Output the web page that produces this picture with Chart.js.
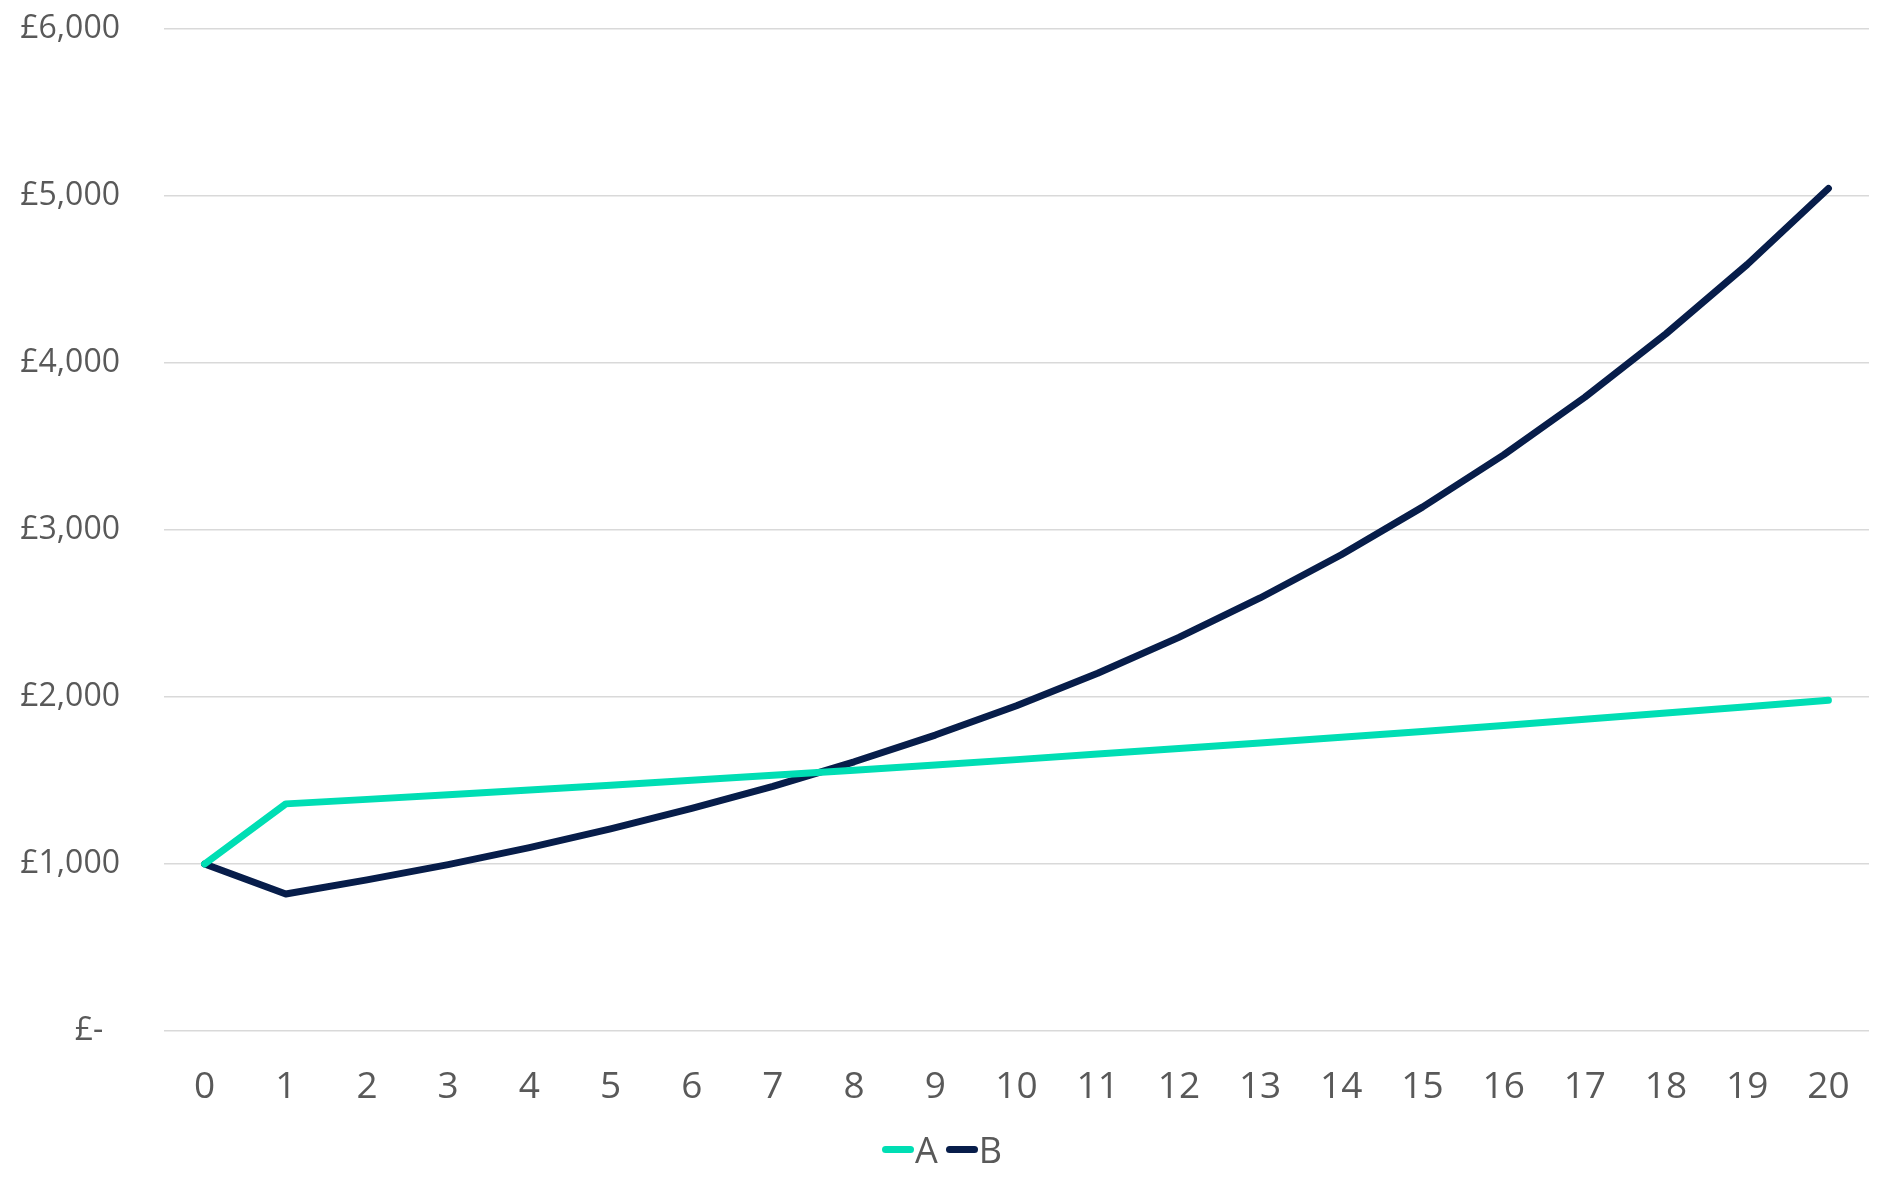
<!DOCTYPE html>
<html>
<head>
<meta charset="utf-8">
<script src="https://cdn.jsdelivr.net/npm/chart.js@4.4.1/dist/chart.umd.min.js"></script>
<style>
  html, body { margin: 0; padding: 0; background: #fff; }
  #wrap { position: relative; width: 1884px; height: 1187px; }
  #legend {
    position: absolute; left: 0; right: 0; top: 1125px; height: 48px;
    display: flex; justify-content: center; align-items: center;
    font-family: "Open Sans", "DejaVu Sans", sans-serif; font-size: 36px; color: #595959;
  }
  #legend .item { display: flex; align-items: center; margin: 0 4px; }
  #legend .swatch { width: 32px; height: 7px; border-radius: 4px; margin-right: 1px; }
</style>
</head>
<body>
<div id="wrap">
  <canvas id="chart"></canvas>
  <div id="legend"></div>
</div>
<script>
//------------------ Data ------------------//
const years = ['0','1','2','3','4','5','6','7','8','9','10','11','12','13','14','15','16','17','18','19','20'];
const seriesA = [1000, 1360, 1387, 1415, 1443, 1472, 1502, 1532, 1562, 1593, 1625, 1658, 1691, 1725, 1759, 1794, 1830, 1867, 1904, 1942, 1980];
const seriesB = [1000, 820, 905, 996, 1098, 1210, 1333, 1465, 1612, 1772, 1948, 2142, 2357, 2593, 2852, 3137, 3450, 3795, 4175, 4590, 5045];
const yTicks = [0, 1000, 2000, 3000, 4000, 5000, 6000];

const textColor = '#595959';
const fontFamily = '"Open Sans", "DejaVu Sans", sans-serif';

//------------------ Chart ------------------//
const ctx = document.getElementById('chart').getContext('2d');
const chart = new Chart(ctx, {
  type: 'line',
  data: {
    labels: years,
    datasets: [
      { label: 'A', data: seriesA, borderColor: '#00DEB4', backgroundColor: '#00DEB4',
        borderWidth: 7, pointRadius: 0, tension: 0, borderCapStyle: 'round', borderJoinStyle: 'round' },
      { label: 'B', data: seriesB, borderColor: '#071D4A', backgroundColor: '#071D4A',
        borderWidth: 7, pointRadius: 0, tension: 0, borderCapStyle: 'round', borderJoinStyle: 'round' }
    ]
  },
  options: {
    responsive: true,
    maintainAspectRatio: false,
    animation: false,
    layout: { padding: { top: 29, right: 15, left: 0, bottom: 87 } },
    plugins: {
      tooltip: { enabled: false },
      legend: { display: false }
    },
    scales: {
      x: {
        offset: true,
        afterFit: axis => { axis.height = 69; },
        grid: { display: false, drawTicks: false },
        border: { display: false },
        ticks: { color: textColor, font: { family: fontFamily, size: 37 }, padding: 34, maxRotation: 0 }
      },
      y: {
        min: 0,
        max: 6000,
        afterBuildTicks: axis => { axis.ticks = yTicks.map(v => ({ value: v })); },
        afterFit: axis => { axis.width = 164; axis.paddingTop = 0; axis.paddingBottom = 0; },
        grid: { color: '#D9D9D9', lineWidth: 1.5, drawTicks: false },
        border: { display: false },
        ticks: {
          color: textColor,
          font: { family: fontFamily, size: 32 },
          padding: 44,
          callback: v => v === 0 ? '£-\u00a0\u00a0' : '£' + v.toLocaleString('en-GB')
        }
      }
    }
  }
});

//------------------ Legend (HTML) ------------------//
const legendDiv = document.getElementById('legend');
chart.data.datasets.forEach(ds => {
  const item = document.createElement('span');
  item.className = 'item';
  item.innerHTML = `<span class="swatch" style="background:${ds.borderColor}"></span><span>${ds.label}</span>`;
  legendDiv.appendChild(item);
});
</script>
</body>
</html>
